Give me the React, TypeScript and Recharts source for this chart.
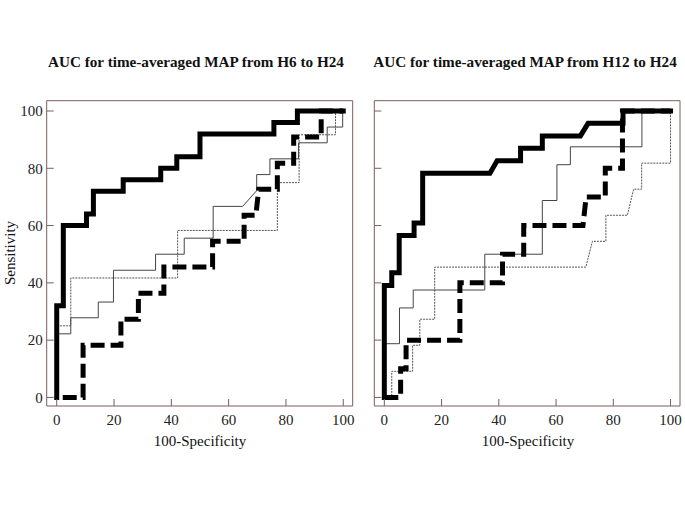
import React from 'react';
import { LineChart, Line, XAxis, YAxis, ReferenceArea } from 'recharts';

// ROC curves, [100-specificity, sensitivity]
const h6ThickSolid = [
  [0, 0], [0, 32], [2.3, 32], [2.3, 60], [10.4, 60], [10.4, 64], [12.8, 64], [12.8, 72],
  [23.2, 72], [23.2, 76], [36.3, 76], [36.3, 80], [41.9, 80], [41.9, 84], [50, 84], [50, 92],
  [75.8, 92], [75.8, 96], [84, 96], [84, 100], [100, 100],
];
const h6ThinSolid = [
  [0, 0], [0, 22.2], [4.9, 22.2], [4.9, 27.8], [14.5, 27.8], [14.5, 33.3], [19.8, 33.3],
  [19.8, 44.4], [34.5, 44.4], [34.5, 50], [44.5, 50], [44.5, 55.6], [54.6, 55.6], [54.6, 66.7],
  [64.9, 66.7], [69.8, 72.2], [69.8, 77.8], [74.4, 77.8], [74.4, 83.3], [84.4, 83.3],
  [84.4, 88.9], [94.4, 88.9], [94.4, 94.4], [99.8, 94.4], [99.8, 100], [100, 100],
];
const h6Dotted = [
  [0, 0], [0, 25], [4.9, 25], [4.9, 41.7], [42.2, 41.7], [42.2, 58.3], [77, 58.3], [77, 75],
  [84.6, 75], [84.6, 91.7], [97.3, 91.7], [97.3, 100], [100, 100],
];
const h6ThickDashed = [
  [0, 0], [9.2, 0], [9.2, 18.2], [22.4, 18.2], [22.4, 27.3], [28.5, 27.3], [28.5, 36.4],
  [37.4, 36.4], [37.4, 45.5], [54.4, 45.5], [54.4, 54.5], [65.4, 54.5], [65.4, 63.6],
  [69.5, 63.6], [70.5, 72.7], [77, 72.7], [77, 81.8], [82.7, 81.8], [82.7, 90.9], [92.3, 90.9],
  [92.3, 100], [100, 100],
];

const h12ThickSolid = [
  [0, 0], [0, 39.1], [2.6, 39.1], [2.6, 43.5], [5.2, 43.5], [5.2, 56.5], [10.4, 56.5],
  [10.4, 60.9], [13.4, 60.9], [13.4, 78.3], [36.9, 78.3], [39.4, 82.6], [47.6, 82.6],
  [47.6, 87], [55.2, 87], [55.2, 91.3], [68.5, 91.3], [71.2, 95.7], [83.4, 95.7], [83.4, 100],
  [100, 100],
];
const h12ThinSolid = [
  [0, 0], [0, 18.75], [5.3, 18.75], [5.3, 31.25], [10.1, 31.25], [10.1, 37.5], [35.1, 37.5],
  [35.1, 50], [55.2, 50], [55.2, 68.75], [60.3, 68.75], [60.3, 81.25], [65, 81.25], [65, 87.5],
  [90, 87.5], [90, 100], [100, 100],
];
const h12Dotted = [
  [0, 0], [2.6, 0], [2.6, 9.1], [9.9, 9.1], [9.9, 18.2], [12.4, 18.2], [12.4, 27.3],
  [17.6, 27.3], [17.6, 45.5], [70.4, 45.5], [72.7, 54.5], [77.4, 54.5], [77.4, 63.6],
  [84.9, 63.6], [87.1, 72.7], [89.9, 72.7], [89.9, 81.8], [100, 81.8], [100, 100],
];
const h12ThickDashed = [
  [0, 0], [5.7, 0], [5.7, 10], [7.6, 10], [7.6, 20], [26.4, 20], [26.4, 40], [41.3, 40],
  [41.3, 50], [48.7, 50], [48.7, 60], [69.4, 60], [70.5, 70], [77.2, 70], [77.2, 80],
  [83.2, 80], [83.2, 100], [100, 100],
];

const axisTicks = [0, 20, 40, 60, 80, 100];
const titles = ['AUC for time-averaged MAP from H6 to H24', 'AUC for time-averaged MAP from H12 to H24'];

const FRAME = '#7d5c5c';
const FONT = '"Liberation Serif", "Times New Roman", serif';
const X_DOMAIN: [number, number] = [-3.5, 103.3];
const Y_DOMAIN: [number, number] = [-3, 103.6];

const toPts = (rows: number[][]) => rows.map(([x, y]) => ({ x, y }));

interface PanelProps {
  left: number;
  width: number;
  yAxisWidth: number;
  marginLeft: number;
  marginRight: number;
  showYLabels: boolean;
  dashOffset: number;
  thickSolid: number[][];
  thinSolid: number[][];
  dotted: number[][];
  thickDashed: number[][];
}

const Panel = (p: PanelProps) => (
  <div style={{ position: 'absolute', left: p.left, top: 0 }}>
    <LineChart
      width={p.width}
      height={470}
      margin={{ top: 100.7, right: p.marginRight, left: p.marginLeft, bottom: 34 }}
    >
      <XAxis
        type="number"
        dataKey="x"
        domain={X_DOMAIN}
        ticks={axisTicks}
        interval={0}
        allowDataOverflow
        height={30}
        axisLine={false}
        tickLine={{ stroke: FRAME }}
        tickSize={-7}
        tickMargin={15}
        tick={{ fill: '#222', fontSize: 15, fontFamily: FONT }}
      />
      <YAxis
        type="number"
        domain={Y_DOMAIN}
        ticks={axisTicks}
        interval={0}
        allowDataOverflow
        width={p.yAxisWidth}
        axisLine={false}
        tickLine={{ stroke: FRAME }}
        tickSize={-7}
        tickMargin={11}
        tickFormatter={(v: number) => (p.showYLabels ? String(v) : '')}
        tick={{ fill: '#222', fontSize: 15, fontFamily: FONT }}
      />
      <ReferenceArea
        x1={X_DOMAIN[0]}
        x2={X_DOMAIN[1]}
        y1={Y_DOMAIN[0]}
        y2={Y_DOMAIN[1]}
        ifOverflow="visible"
        fill="none"
        stroke={FRAME}
        strokeWidth={1}
      />
      <Line data={toPts(p.dotted)} dataKey="y" type="linear" stroke="#555" strokeWidth={1}
        strokeDasharray="2 1" dot={false} activeDot={false} isAnimationActive={false} />
      <Line data={toPts(p.thinSolid)} dataKey="y" type="linear" stroke="#444" strokeWidth={1}
        dot={false} activeDot={false} isAnimationActive={false} />
      <Line data={toPts(p.thickDashed)} dataKey="y" type="linear" stroke="#000" strokeWidth={5}
        strokeDasharray="14 6" strokeDashoffset={p.dashOffset} strokeLinejoin="miter"
        dot={false} activeDot={false} isAnimationActive={false} />
      <Line data={toPts(p.thickSolid)} dataKey="y" type="linear" stroke="#000" strokeWidth={5}
        strokeLinejoin="miter" strokeLinecap="square" dot={false} activeDot={false}
        isAnimationActive={false} />
    </LineChart>
  </div>
);

export default function App() {
  return (
    <div style={{ position: 'absolute', left: 0, top: 0, width: 685, height: 513, background: '#fff' }}>
      <Panel left={0} width={360} yAxisWidth={40} marginLeft={6.7} marginRight={7.3} showYLabels
        dashOffset={14}
        thickSolid={h6ThickSolid} thinSolid={h6ThinSolid} dotted={h6Dotted} thickDashed={h6ThickDashed} />
      <Panel left={340} width={345} yAxisWidth={20} marginLeft={14.3} marginRight={5} showYLabels={false}
        dashOffset={0}
        thickSolid={h12ThickSolid} thinSolid={h12ThinSolid} dotted={h12Dotted} thickDashed={h12ThickDashed} />
      <svg width={685} height={513} style={{ position: 'absolute', left: 0, top: 0, pointerEvents: 'none' }}>
        <g fontFamily={FONT} fill="#111">
          <text x={196} y={61} textAnchor="middle" dominantBaseline="central" fontSize={15.2} fontWeight="bold">
            {titles[0]}
          </text>
          <text x={525} y={61} textAnchor="middle" dominantBaseline="central" fontSize={15.2} fontWeight="bold">
            {titles[1]}
          </text>
          <text x={200} y={441} textAnchor="middle" dominantBaseline="central" fontSize={15}>
            100-Specificity
          </text>
          <text x={528} y={441} textAnchor="middle" dominantBaseline="central" fontSize={15}>
            100-Specificity
          </text>
          <text x={10} y={253} textAnchor="middle" dominantBaseline="central" fontSize={15}
            transform="rotate(-90 10 253)">
            Sensitivity
          </text>
        </g>
      </svg>
    </div>
  );
}
